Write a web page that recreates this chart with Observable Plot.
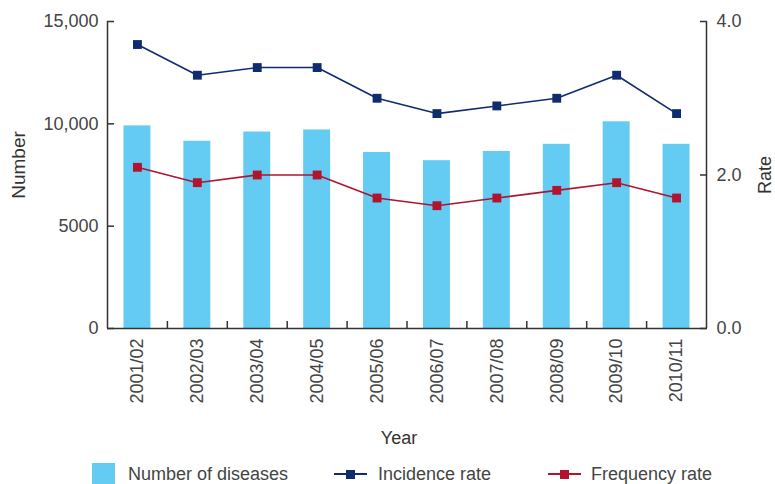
<!DOCTYPE html>
<html>
<head>
<meta charset="utf-8">
<script src="https://cdn.jsdelivr.net/npm/d3@7"></script>
<script src="https://cdn.jsdelivr.net/npm/@observablehq/plot@0.6"></script>
<style>
  html, body { margin: 0; padding: 0; background: #fff; }
  #wrap { position: relative; width: 775px; height: 484px; font-family: "Liberation Sans", Arial, sans-serif; color: #444; }
  #legend { position: absolute; left: 0; top: 452px; width: 775px; height: 32px; font-size: 18px; }
  #legend .sw { position: absolute; top: 11px; width: 23px; height: 21px; background: #64CCF2; }
  #legend .ln { position: absolute; top: 21px; width: 33px; height: 2px; }
  #legend .mk { position: absolute; top: 17.5px; width: 9px; height: 9px; }
  #legend .tx { position: absolute; top: 11px; line-height: 22px; white-space: nowrap; }
</style>
</head>
<body>
<div id="wrap">
  <div id="chart"></div>
  <div id="legend"></div>
</div>
<script>
const years = ["2001/02","2002/03","2003/04","2004/05","2005/06","2006/07","2007/08","2008/09","2009/10","2010/11"];
const diseases = [9900, 9150, 9600, 9700, 8600, 8200, 8650, 9000, 10100, 9000];
const incidenceRate = [3.7, 3.3, 3.4, 3.4, 3.0, 2.8, 2.9, 3.0, 3.3, 2.8];
const frequencyRate = [2.1, 1.9, 2.0, 2.0, 1.7, 1.6, 1.7, 1.8, 1.9, 1.7];
const numberTicks = [0, 5000, 10000, 15000];
const rateTicks = [0, 2, 4];

const NUM_MAX = 15000, RATE_MAX = 4;
const k = NUM_MAX / RATE_MAX; // rate -> left-scale units

const colBar = "#64CCF2", colInc = "#0F2C6E", colFreq = "#B2142F", axisCol = "#333";

const barData = years.map((y, i) => ({year: y, value: diseases[i]}));
const incData = years.map((y, i) => ({year: y, value: incidenceRate[i] * k}));
const freqData = years.map((y, i) => ({year: y, value: frequencyRate[i] * k}));

const W = 775, H = 452, mL = 107, mR = 69, mT = 21, mB = 124;
const plotH = H - mT - mB;
const step = (W - mL - mR) / years.length;
const tickLen = 7;
const tickUnits = tickLen / plotH * NUM_MAX;

const chart = Plot.plot({
  width: W, height: H,
  marginLeft: mL, marginRight: mR, marginTop: mT, marginBottom: mB,
  style: {fontFamily: '"Liberation Sans", Arial, sans-serif', fontSize: "18px", color: "#444", background: "#fff"},
  x: {type: "band", domain: years, paddingInner: 0.55, paddingOuter: 0.275, round: false},
  y: {domain: [0, NUM_MAX]},
  marks: [
    Plot.barY(barData, {x: "year", y: "value", fill: colBar}),
    // left & right axis lines
    Plot.ruleX([years[0]], {dx: -step / 2, y1: 0, y2: NUM_MAX, stroke: axisCol, strokeWidth: 1.5}),
    Plot.ruleX([years[years.length - 1]], {dx: step / 2, y1: 0, y2: NUM_MAX, stroke: axisCol, strokeWidth: 1.5}),
    Plot.ruleY([0], {stroke: axisCol, strokeWidth: 1.5}),
    // inward ticks between categories on the x axis
    Plot.ruleX(years.slice(0, -1), {dx: step / 2, y1: 0, y2: tickUnits, stroke: axisCol, strokeWidth: 1.5}),
    Plot.axisY(numberTicks, {anchor: "left", tickSize: -tickLen, tickPadding: 9 + tickLen, stroke: axisCol, strokeWidth: 1.5,
      tickFormat: d => d >= 10000 ? d3.format(",")(d) : String(d), label: null}),
    Plot.axisY(rateTicks.map(r => r * k), {anchor: "right", tickSize: -tickLen, tickPadding: 10 + tickLen, stroke: axisCol, strokeWidth: 1.5,
      tickFormat: d => (d / k).toFixed(1), label: null}),
    Plot.axisX({anchor: "bottom", tickSize: 0, tickRotate: -90, tickPadding: 10, label: null}),
    Plot.line(incData, {x: "year", y: "value", stroke: colInc, strokeWidth: 1.6}),
    Plot.dot(incData, {x: "year", y: "value", symbol: "square", r: 5, fill: colInc}),
    Plot.line(freqData, {x: "year", y: "value", stroke: colFreq, strokeWidth: 1.6}),
    Plot.dot(freqData, {x: "year", y: "value", symbol: "square", r: 5, fill: colFreq}),
    Plot.text(["Year"], {frameAnchor: "bottom", lineAnchor: "middle", textAnchor: "middle", dy: 110, dx: -8, fill: "#333"}),
    Plot.text(["Number"], {frameAnchor: "left", textAnchor: "middle", lineAnchor: "middle", rotate: -90, dx: -89, dy: -10, fill: "#333", fontSize: 19}),
    Plot.text(["Rate"], {frameAnchor: "right", textAnchor: "middle", lineAnchor: "middle", rotate: -90, dx: 59, dy: 0, fill: "#333"})
  ]
});
document.getElementById("chart").appendChild(chart);

const legend = document.getElementById("legend");
const items = [
  {type: "swatch", x: 92, color: colBar},
  {type: "text", x: 128, label: "Number of diseases"},
  {type: "line", x: 334, color: colInc},
  {type: "text", x: 378, label: "Incidence rate"},
  {type: "line", x: 548, color: colFreq},
  {type: "text", x: 591, label: "Frequency rate"}
];
for (const it of items) {
  if (it.type === "swatch") {
    const d = document.createElement("div"); d.className = "sw"; d.style.left = it.x + "px"; d.style.background = it.color; legend.appendChild(d);
  } else if (it.type === "line") {
    const l = document.createElement("div"); l.className = "ln"; l.style.left = it.x + "px"; l.style.background = it.color; legend.appendChild(l);
    const m = document.createElement("div"); m.className = "mk"; m.style.left = (it.x + 12) + "px"; m.style.background = it.color; legend.appendChild(m);
  } else {
    const t = document.createElement("span"); t.className = "tx"; t.style.left = it.x + "px"; t.textContent = it.label; legend.appendChild(t);
  }
}
</script>
</body>
</html>
